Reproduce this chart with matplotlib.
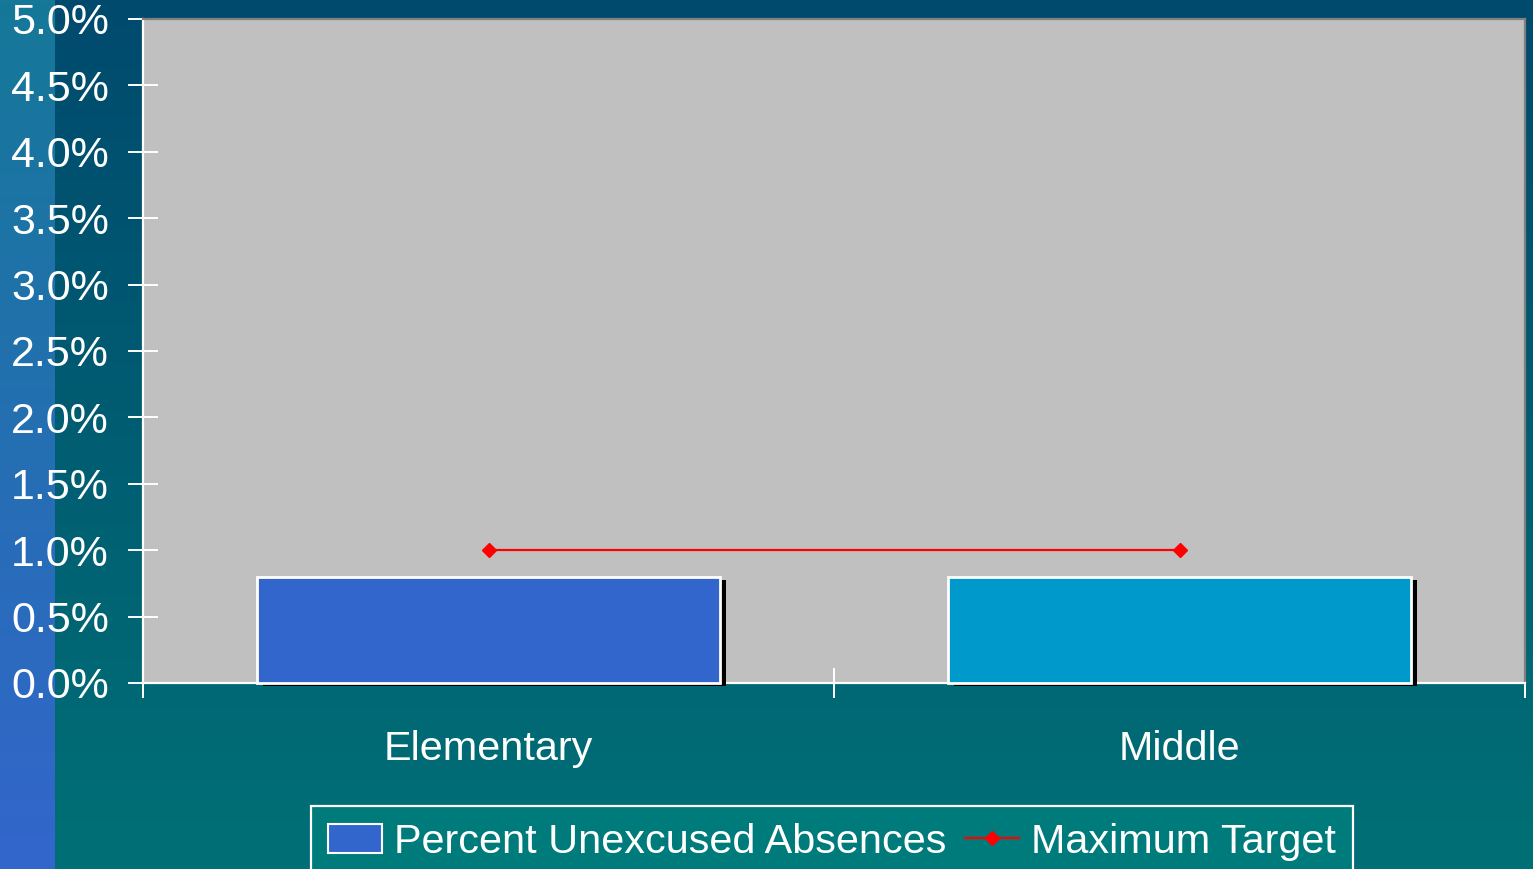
import numpy as np
import matplotlib
matplotlib.use("Agg")
import matplotlib.pyplot as plt
import matplotlib.patheffects as pe
from matplotlib.patches import Patch
from matplotlib.lines import Line2D
from matplotlib.ticker import PercentFormatter, FixedLocator

plt.rcParams['font.family'] = ['Liberation Sans', 'DejaVu Sans']

# data
categories = ['Elementary', 'Middle']
unexcused = [0.008, 0.008]
target = [0.010, 0.010]
bar_colors = ['#3366cc', '#0099cc']

W, H = 1533, 869
fig = plt.figure(figsize=(W / 100, H / 100), dpi=100)

# background gradient + left strip
bg = fig.add_axes([0, 0, 1, 1], zorder=-10)
t = np.linspace(0, 1, 200)[:, None]
top = np.array([0, 74, 110]) / 255
bot = np.array([0, 112, 118]) / 255
strip_top = np.array([21, 120, 152]) / 255
strip_bot = np.array([51, 102, 204]) / 255
img = np.zeros((200, W, 3))
img[:, :, :] = (top + (bot - top) * t)[:, None, :]
img[:, :55, :] = (strip_top + (strip_bot - strip_top) * t)[:, None, :]
bg.imshow(img, aspect='auto', extent=[0, 1, 0, 1], origin='upper')
bg.set_axis_off()

ax = fig.add_axes([143 / W, 1 - 683 / H, (1525 - 143) / W, (683 - 19) / H])
ax.set_facecolor('#c0c0c0')

x = np.arange(len(categories))
shadow = [pe.SimplePatchShadow(offset=(4.5, -2), shadow_rgbFace='black', alpha=1), pe.Normal()]
bars = ax.bar(x, unexcused, width=0.67, color=bar_colors, edgecolor='white', linewidth=2,
              zorder=3, clip_on=False)
for b in bars:
    b.set_path_effects(shadow)

ax.plot(x, target, color='#ff0000', linewidth=1.6, marker='D', markersize=7.5, zorder=4)

ax.set_xlim(-0.5, 1.5)
ax.set_ylim(0, 0.05)
ax.yaxis.set_major_locator(FixedLocator(np.arange(0, 0.0501, 0.005)))
ax.yaxis.set_major_formatter(PercentFormatter(xmax=1, decimals=1))
ax.set_xticks(x)
ax.set_xticklabels(categories)
ax.set_xticks([-0.5, 0.5, 1.5], minor=True)

ax.tick_params(axis='y', direction='inout', length=21, width=1.4, color='white',
               labelcolor='white', labelsize=31, pad=14)
ax.tick_params(axis='x', which='major', length=0, labelcolor='white', labelsize=29.8, pad=34)
ax.tick_params(axis='x', which='minor', direction='inout', length=21, width=1.4, color='white')

for s in ['top', 'right']:
    ax.spines[s].set_color('#808080')
    ax.spines[s].set_linewidth(1.6)
ax.spines['left'].set_color('white')
ax.spines['left'].set_linewidth(1.6)
ax.spines['bottom'].set_color('white')
ax.spines['bottom'].set_linewidth(1.6)

handles = [Patch(facecolor=bar_colors[0], edgecolor='white', linewidth=1.5),
           Line2D([], [], color='#ff0000', linewidth=1.6, marker='D', markersize=7.5)]
leg = fig.legend(handles, ['Percent Unexcused Absences', 'Maximum Target'],
                 loc='upper center', bbox_to_anchor=(832 / W, 1 - 806 / H), ncol=2,
                 fontsize=29.8, frameon=True, fancybox=False, handlelength=1.3,
                 handleheight=0.7, handletextpad=0.3, columnspacing=0.45,
                 borderpad=0.4, borderaxespad=0)
frame = leg.get_frame()
frame.set_facecolor('#007b7b')
frame.set_edgecolor('white')
frame.set_linewidth(1.6)
frame.set_alpha(1)
for txt in leg.get_texts():
    txt.set_color('white')

fig.savefig('out.png', dpi=100)
